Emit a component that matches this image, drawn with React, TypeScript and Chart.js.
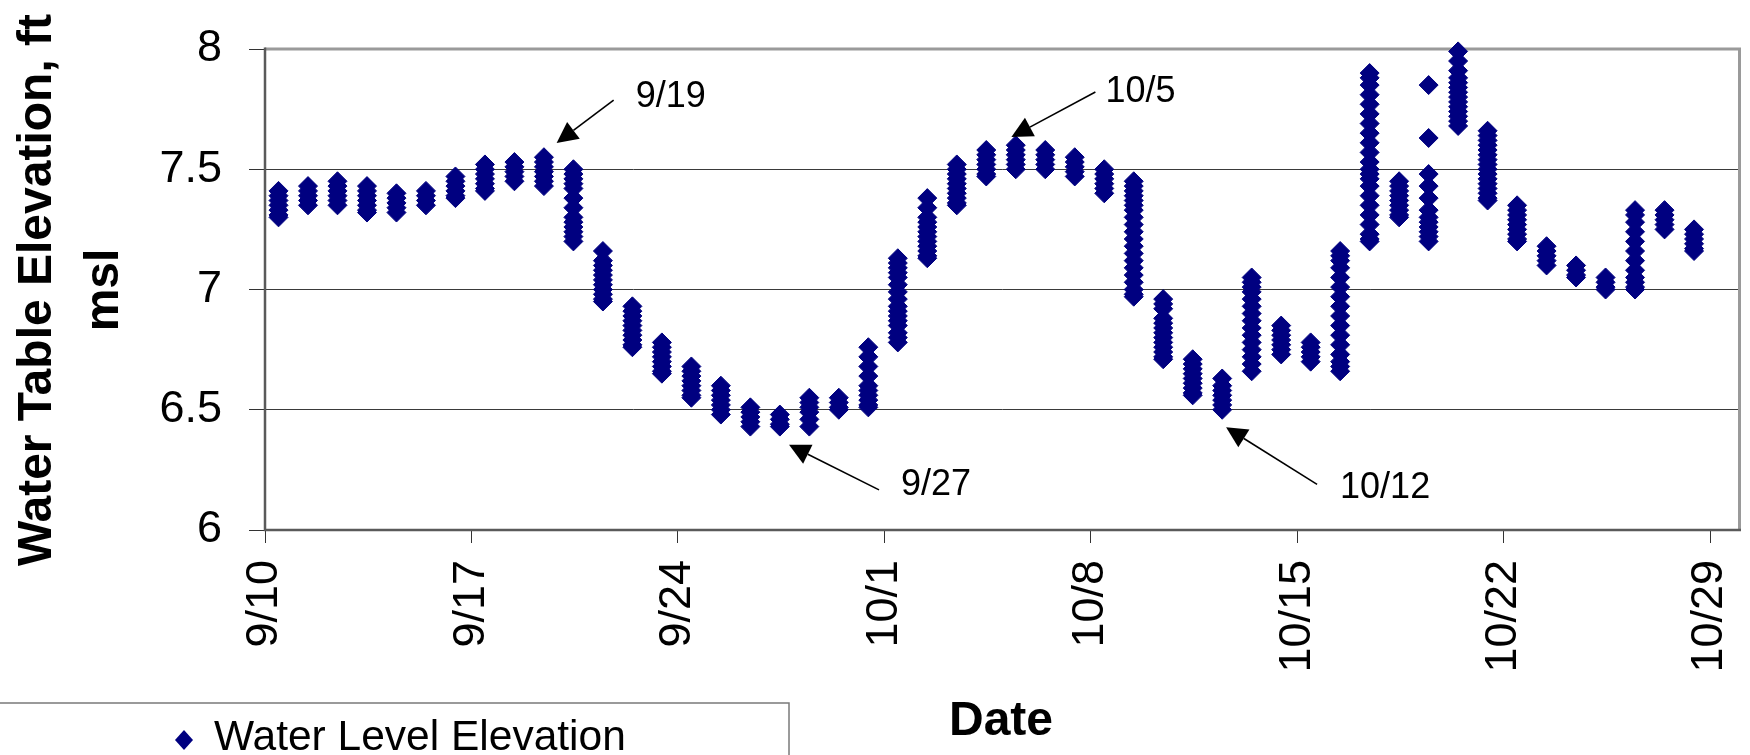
import React, { useEffect, useRef } from 'react';
import { Chart, registerables } from 'chart.js';

Chart.register(...registerables);

// ---------- data ----------
const START_DATE = '9/10';
const END_DATE = '10/30';
const READING_HOUR = 11;

const xTickLabels = ['9/10', '9/17', '9/24', '10/1', '10/8', '10/15', '10/22', '10/29'];
const yTickValues = [6, 6.5, 7, 7.5, 8];

const seriesName = 'Water Level Elevation';
const yTitleLines = ['Water Table Elevation, ft', 'msl'];
const xTitle = 'Date';

const readingDates = [
  '9/10', '9/11', '9/12', '9/13', '9/14', '9/15', '9/16', '9/17', '9/18', '9/19',
  '9/20', '9/21', '9/22', '9/23', '9/24', '9/25', '9/26', '9/27', '9/28', '9/29',
  '9/30', '10/1', '10/2', '10/3', '10/4', '10/5', '10/6', '10/7', '10/8', '10/9',
  '10/10', '10/11', '10/12', '10/13', '10/14', '10/15', '10/16', '10/17', '10/18', '10/19',
  '10/20', '10/21', '10/22', '10/23', '10/24', '10/25', '10/26', '10/27', '10/28',
];

const readingValues: number[][] = [
  [7.41, 7.39, 7.37, 7.35, 7.33, 7.31, 7.30],
  [7.43, 7.41, 7.39, 7.37, 7.35],
  [7.45, 7.43, 7.41, 7.39, 7.37, 7.35],
  [7.43, 7.41, 7.39, 7.37, 7.35, 7.33, 7.32],
  [7.40, 7.38, 7.36, 7.34, 7.32],
  [7.41, 7.39, 7.37, 7.35],
  [7.47, 7.45, 7.43, 7.41, 7.39, 7.38],
  [7.52, 7.50, 7.48, 7.46, 7.44, 7.42, 7.41],
  [7.53, 7.51, 7.49, 7.47, 7.45],
  [7.55, 7.53, 7.51, 7.49, 7.47, 7.45, 7.43],
  [7.50, 7.48, 7.46, 7.44, 7.42, 7.38, 7.34, 7.30, 7.28, 7.26, 7.24, 7.22, 7.20],
  [7.16, 7.12, 7.10, 7.08, 7.06, 7.04, 7.02, 7.00, 6.98, 6.96, 6.95],
  [6.93, 6.91, 6.89, 6.87, 6.85, 6.83, 6.81, 6.79, 6.77, 6.76],
  [6.78, 6.76, 6.74, 6.72, 6.70, 6.68, 6.66, 6.65],
  [6.68, 6.66, 6.64, 6.62, 6.60, 6.58, 6.56, 6.55],
  [6.60, 6.58, 6.56, 6.54, 6.52, 6.50, 6.48],
  [6.51, 6.49, 6.47, 6.45, 6.43],
  [6.48, 6.46, 6.44, 6.43],
  [6.55, 6.53, 6.51, 6.49, 6.46, 6.43],
  [6.55, 6.53, 6.51, 6.50],
  [6.76, 6.72, 6.68, 6.64, 6.60, 6.58, 6.56, 6.54, 6.52, 6.51],
  [7.13, 7.11, 7.09, 7.07, 7.05, 7.02, 6.99, 6.96, 6.93, 6.91, 6.89, 6.87, 6.85, 6.82, 6.80, 6.78],
  [7.38, 7.34, 7.30, 7.28, 7.26, 7.24, 7.22, 7.20, 7.18, 7.16, 7.14, 7.13],
  [7.52, 7.50, 7.48, 7.46, 7.44, 7.42, 7.40, 7.38, 7.36, 7.35],
  [7.58, 7.56, 7.54, 7.52, 7.50, 7.48, 7.47],
  [7.60, 7.58, 7.56, 7.54, 7.52, 7.50],
  [7.58, 7.56, 7.54, 7.52, 7.50],
  [7.55, 7.53, 7.51, 7.49, 7.47],
  [7.50, 7.48, 7.46, 7.44, 7.42, 7.40],
  [7.45, 7.43, 7.41, 7.39, 7.37, 7.35, 7.33, 7.30, 7.27, 7.24, 7.21, 7.18, 7.15, 7.12, 7.09, 7.06, 7.03, 7.00, 6.98, 6.97],
  [6.96, 6.94, 6.92, 6.88, 6.86, 6.84, 6.82, 6.80, 6.78, 6.76, 6.74, 6.72, 6.71],
  [6.71, 6.69, 6.67, 6.65, 6.63, 6.61, 6.59, 6.57, 6.56],
  [6.63, 6.60, 6.58, 6.56, 6.54, 6.52, 6.50],
  [7.05, 7.03, 7.01, 6.99, 6.96, 6.93, 6.90, 6.87, 6.84, 6.81, 6.78, 6.75, 6.72, 6.69, 6.66],
  [6.85, 6.83, 6.81, 6.79, 6.77, 6.75, 6.73],
  [6.78, 6.76, 6.74, 6.72, 6.70],
  [7.16, 7.14, 7.12, 7.09, 7.05, 7.01, 6.97, 6.93, 6.89, 6.85, 6.81, 6.77, 6.73, 6.70, 6.68, 6.66],
  [7.90, 7.88, 7.85, 7.81, 7.77, 7.73, 7.69, 7.65, 7.61, 7.57, 7.53, 7.50, 7.48, 7.46, 7.43, 7.39, 7.35, 7.31, 7.27, 7.23, 7.21, 7.20],
  [7.45, 7.43, 7.41, 7.39, 7.37, 7.35, 7.33, 7.31, 7.30],
  [7.85, 7.63, 7.48, 7.43, 7.38, 7.33, 7.30, 7.28, 7.26, 7.24, 7.22, 7.20],
  [7.99, 7.95, 7.91, 7.88, 7.86, 7.84, 7.82, 7.80, 7.78, 7.76, 7.74, 7.72, 7.70, 7.68],
  [7.66, 7.64, 7.62, 7.60, 7.58, 7.56, 7.54, 7.52, 7.50, 7.48, 7.46, 7.44, 7.42, 7.40, 7.38, 7.37],
  [7.35, 7.33, 7.31, 7.29, 7.27, 7.25, 7.23, 7.21, 7.20],
  [7.18, 7.16, 7.14, 7.12, 7.10],
  [7.10, 7.08, 7.06, 7.05],
  [7.05, 7.03, 7.01, 7.00],
  [7.33, 7.31, 7.28, 7.24, 7.20, 7.16, 7.12, 7.08, 7.05, 7.03, 7.01, 7.00],
  [7.33, 7.31, 7.29, 7.27, 7.25],
  [7.25, 7.23, 7.21, 7.19, 7.17, 7.16],
];

// annotations (arrow tips in data coordinates)
const annotationLabels = ['9/19', '9/27', '10/5', '10/12'];
const annotationTipX = [9.89, 17.77, 25.31, 32.59];
const annotationTipY = [7.609, 6.354, 7.634, 6.427];

// ---------- styles ----------
const NAVY = '#000080';
const FONT = '"Liberation Sans", Arial, Helvetica, sans-serif';
const annLineDx = [57, 90, 84, 91];
const annLineDy = [-43, 45, -45, 57];
const annTextDx = [79, 112, 94, 114];
const annTextDy = [-36, 50, -35, 71];

function dayOffset(md: string): number {
  const [sm, sd] = START_DATE.split('/').map(Number);
  const [m, d] = md.split('/').map(Number);
  return (Date.UTC(2001, m - 1, d) - Date.UTC(2001, sm - 1, sd)) / 86400000;
}

function drawArrow(ctx: CanvasRenderingContext2D, fx: number, fy: number, tx: number, ty: number) {
  const ang = Math.atan2(ty - fy, tx - fx);
  const len = 21;
  const hw = 10.5;
  const bx = tx - len * Math.cos(ang);
  const by = ty - len * Math.sin(ang);
  ctx.beginPath();
  ctx.moveTo(fx, fy);
  ctx.lineTo(bx, by);
  ctx.stroke();
  ctx.beginPath();
  ctx.moveTo(tx, ty);
  ctx.lineTo(bx + hw * Math.sin(ang), by - hw * Math.cos(ang));
  ctx.lineTo(bx - hw * Math.sin(ang), by + hw * Math.cos(ang));
  ctx.closePath();
  ctx.fill();
}

const decorPlugin = {
  id: 'decor',
  beforeDatasetsDraw(chart: any) {
    const { ctx, chartArea: a } = chart;
    ctx.save();
    ctx.strokeStyle = '#9a9a9a';
    ctx.lineWidth = 3;
    ctx.beginPath();
    ctx.moveTo(a.left, a.top);
    ctx.lineTo(a.right, a.top);
    ctx.lineTo(a.right, a.bottom);
    ctx.stroke();
    ctx.strokeStyle = '#5a5a5a';
    ctx.lineWidth = 2.5;
    ctx.beginPath();
    ctx.moveTo(a.left, a.top - 1.5);
    ctx.lineTo(a.left, a.bottom);
    ctx.lineTo(a.right + 1.5, a.bottom);
    ctx.stroke();
    ctx.restore();
  },
  afterDraw(chart: any) {
    const { ctx } = chart;
    const xs = chart.scales.x;
    const ys = chart.scales.y;
    ctx.save();
    // annotations
    ctx.strokeStyle = '#000';
    ctx.fillStyle = '#000';
    ctx.lineWidth = 1.6;
    ctx.font = `36px ${FONT}`;
    ctx.textAlign = 'left';
    ctx.textBaseline = 'alphabetic';
    annotationLabels.forEach((label, i) => {
      const tx = xs.getPixelForValue(annotationTipX[i]);
      const ty = ys.getPixelForValue(annotationTipY[i]);
      drawArrow(ctx, tx + annLineDx[i], ty + annLineDy[i], tx, ty);
      ctx.fillText(label, tx + annTextDx[i], ty + annTextDy[i]);
    });

    // y axis title (two lines, rotated)
    ctx.font = `bold 48px ${FONT}`;
    ctx.textAlign = 'center';
    const titleCenterY = 290;
    const baselines = [51, 118];
    yTitleLines.forEach((line, i) => {
      ctx.save();
      ctx.translate(baselines[i], titleCenterY);
      ctx.rotate(-Math.PI / 2);
      ctx.fillText(line, 0, 0);
      ctx.restore();
    });

    // x axis title
    ctx.fillText(xTitle, 1001, 735);

    // legend box (partly outside the canvas)
    ctx.fillStyle = '#fff';
    ctx.fillRect(-2, 703, 791, 70);
    ctx.strokeStyle = '#7a7a7a';
    ctx.lineWidth = 1.5;
    ctx.strokeRect(-2, 703, 791, 70);
    ctx.fillStyle = NAVY;
    ctx.beginPath();
    ctx.moveTo(184, 730);
    ctx.lineTo(193, 740);
    ctx.lineTo(184, 750);
    ctx.lineTo(175, 740);
    ctx.closePath();
    ctx.fill();
    ctx.fillStyle = '#000';
    ctx.font = `42.5px ${FONT}`;
    ctx.textAlign = 'left';
    ctx.fillText(seriesName, 214, 750);
    ctx.restore();
  },
};

export default function App() {
  const canvasRef = useRef<HTMLCanvasElement | null>(null);

  useEffect(() => {
    if (!canvasRef.current) return;
    const points = readingDates.flatMap((d, i) =>
      readingValues[i].map((v) => ({ x: dayOffset(d) + READING_HOUR / 24, y: v }))
    );
    const chart = new Chart(canvasRef.current, {
      type: 'scatter',
      data: {
        datasets: [
          {
            label: seriesName,
            data: points,
            pointStyle: 'rectRot',
            pointRadius: 9.5,
            pointHoverRadius: 9.5,
            pointBackgroundColor: NAVY,
            pointBorderColor: NAVY,
            pointBorderWidth: 1,
            clip: false,
          } as any,
        ],
      },
      options: {
        animation: false,
        responsive: false,
        maintainAspectRatio: false,
        layout: { padding: { left: 0, top: 49, right: 8, bottom: 0 } },
        plugins: {
          legend: { display: false },
          tooltip: { enabled: false },
          title: { display: false },
        },
        scales: {
          x: {
            type: 'linear',
            min: 0,
            max: dayOffset(END_DATE),
            afterBuildTicks: (scale: any) => {
              scale.ticks = xTickLabels.map((l) => ({ value: dayOffset(l) }));
            },
            afterFit: (scale: any) => {
              scale.height = 225;
              scale.paddingLeft = 0;
              scale.paddingRight = 0;
            },
            border: { display: false },
            grid: {
              drawOnChartArea: false,
              drawTicks: true,
              tickLength: 13,
              color: '#333',
              tickColor: '#333',
              lineWidth: 1,
            },
            ticks: {
              autoSkip: false,
              minRotation: 90,
              maxRotation: 90,
              padding: 17,
              color: '#000',
              font: { family: FONT, size: 45 },
              callback: (_v: any, i: number) => xTickLabels[i],
            },
          },
          y: {
            type: 'linear',
            min: yTickValues[0],
            max: yTickValues[yTickValues.length - 1],
            afterBuildTicks: (scale: any) => {
              scale.ticks = yTickValues.map((v) => ({ value: v }));
            },
            afterFit: (scale: any) => {
              scale.width = 265;
              scale.paddingTop = 0;
              scale.paddingBottom = 0;
            },
            border: { display: false },
            grid: {
              color: (c: any) =>
                c.tick && (c.tick.value === yTickValues[0] || c.tick.value === yTickValues[yTickValues.length - 1])
                  ? 'rgba(0,0,0,0)'
                  : '#3a3a3a',
              tickColor: '#333',
              tickLength: 16,
              lineWidth: 1,
            },
            ticks: {
              padding: 27,
              color: '#000',
              font: { family: FONT, size: 45 },
              callback: (v: any) => String(v),
            },
          },
        },
      },
      plugins: [decorPlugin],
    });
    return () => chart.destroy();
  }, []);

  return (
    <div style={{ position: 'fixed', left: 0, top: 0, width: 1750, height: 755, background: '#fff' }}>
      <canvas ref={canvasRef} width={1750} height={755} style={{ display: 'block', width: 1750, height: 755 }} />
    </div>
  );
}
